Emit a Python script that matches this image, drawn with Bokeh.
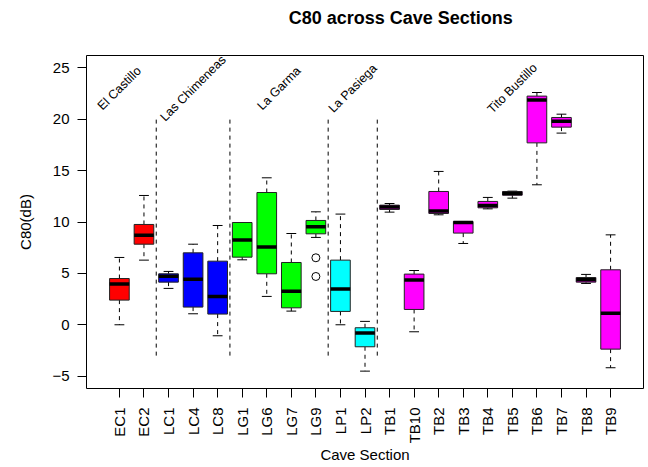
import math
import numpy as np
from bokeh.plotting import figure
from bokeh.layouts import column
from bokeh.models import ColumnDataSource, FixedTicker
from bokeh.core.properties import value
from bokeh.embed import file_html
from bokeh.resources import INLINE

# ---- data ----
categories = ["EC1", "EC2", "LC1", "LC4", "LC8", "LG1", "LG6", "LG7", "LG9",
              "LP1", "LP2", "TB1", "TB10", "TB2", "TB3", "TB4", "TB5", "TB6",
              "TB7", "TB8", "TB9"]
whisk_lo = [0.0, 6.29, 3.54, 1.07, -1.07, 6.32, 2.76, 1.33, 8.50, 0.0, -4.51,
            10.96, -0.68, 10.70, 7.91, 11.28, 12.32, 13.62, 18.65, 4.02, -4.18]
q1 = [2.40, 7.84, 4.15, 1.72, 1.04, 6.58, 4.96, 1.65, 8.85, 1.30, -2.14,
      11.22, 1.49, 10.83, 8.92, 11.38, 12.61, 17.70, 19.23, 4.15, -2.37]
median = [3.96, 8.72, 4.73, 4.44, 2.76, 8.24, 7.56, 3.27, 9.53, 3.47, -0.81,
          11.45, 4.35, 11.06, 9.95, 11.61, 12.78, 21.86, 19.81, 4.38, 1.13]
q3 = [4.50, 9.76, 4.96, 7.00, 6.19, 9.95, 12.87, 6.06, 10.15, 6.29, -0.29,
      11.64, 4.93, 12.97, 10.05, 12.00, 12.97, 22.25, 20.17, 4.60, 5.35]
whisk_hi = [6.55, 12.58, 5.19, 7.84, 9.66, 9.95, 14.30, 8.88, 10.99, 10.77, 0.33,
            11.80, 5.28, 14.92, 10.05, 12.39, 13.00, 22.60, 20.49, 4.90, 8.75]

outlier_cat = ["LG9", "LG9"]
outlier_val = [6.52, 4.70]

cave_names = ["El Castillo", "Las Chimeneas", "La Garma", "La Pasiega", "Tito Bustillo"]
cave_counts = [2, 3, 4, 2, 10]
cave_colors = ["#FF0000", "#0000FF", "#00FF00", "#00FFFF", "#FF00FF"]
cave_label_x = [1, 4, 7.5, 10.5, 17]
cave_label_y = 23
sep_y0, sep_y1 = -3, 20
y_ticks = [-5, 0, 5, 10, 15, 20, 25]

TITLE = "C80 across Cave Sections"

# ---- layout constants ----
FONT = "Liberation Sans"
W = 646
TITLE_H = 40
MAIN_H = 426
B_LEFT, B_RIGHT, B_TOP, B_BOTTOM = 86, 3, 15, 78

# ---- derived ----
pos = np.arange(1, len(categories) + 1)
colors = [c for c, n in zip(cave_colors, cave_counts) for _ in range(n)]
box_w = 0.8
cap_w = 0.4

src = ColumnDataSource(dict(
    x=pos, lo=whisk_lo, q1=q1, med=median, q3=q3, hi=whisk_hi, color=colors,
    xl=pos - box_w / 2, xr=pos + box_w / 2, cl=pos - cap_w / 2, cr=pos + cap_w / 2,
))

# ---- title strip ----
t = figure(width=W, height=TITLE_H, x_range=(0, W), y_range=(0, TITLE_H),
           x_axis_type=None, y_axis_type=None, output_backend="svg",
           toolbar_location=None, min_border=0)
t.outline_line_color = None
t.background_fill_color = "white"
t.border_fill_color = "white"
t.text(x=[(B_LEFT + W - B_RIGHT) / 2], y=[TITLE_H - 17], text=[TITLE],
       text_align="center", text_baseline="middle", text_font=value(FONT),
       text_font_size="18px", text_font_style="bold", text_color="black")

# ---- main plot ----
p = figure(width=W, height=MAIN_H, x_range=(-0.34, 22.34), y_range=(-6.2, 26.2),
           output_backend="svg", toolbar_location=None,
           min_border_left=B_LEFT, min_border_right=B_RIGHT,
           min_border_top=B_TOP, min_border_bottom=B_BOTTOM)
p.background_fill_color = "white"
p.border_fill_color = "white"
p.xgrid.visible = False
p.ygrid.visible = False
p.outline_line_color = "black"
p.outline_line_width = 1
p.outline_line_alpha = 1
p.title.visible = False

# whiskers
p.segment(x0="x", y0="q3", x1="x", y1="hi", source=src, line_color="black",
          line_width=1, line_dash="4 4")
p.segment(x0="x", y0="q1", x1="x", y1="lo", source=src, line_color="black",
          line_width=1, line_dash="4 4")
p.segment(x0="cl", y0="hi", x1="cr", y1="hi", source=src, line_color="black", line_width=1)
p.segment(x0="cl", y0="lo", x1="cr", y1="lo", source=src, line_color="black", line_width=1)

# boxes
p.quad(left="xl", right="xr", bottom="q1", top="q3", source=src,
       fill_color="color", line_color="#222222", line_width=1)
p.segment(x0="xl", y0="med", x1="xr", y1="med", source=src, line_color="black",
          line_width=3.5, line_cap="butt")

# outliers
out_x = [pos[categories.index(c)] for c in outlier_cat]
p.scatter(out_x, outlier_val, marker="circle", size=8, fill_color=None,
          line_color="black", line_width=1)

# separators
sep_x = np.cumsum(cave_counts)[:-1] + 0.5
p.segment(x0=sep_x, y0=[sep_y0] * len(sep_x), x1=sep_x, y1=[sep_y1] * len(sep_x),
          line_color="black", line_width=1, line_dash="4 4")

# cave labels
p.text(x=cave_label_x, y=[cave_label_y] * len(cave_names), text=cave_names,
       angle=45, angle_units="deg", text_align="center", text_baseline="middle",
       text_font=value(FONT), text_font_size="12.5px", text_color="black")

# axes
xa = p.xaxis[0]
xa.ticker = FixedTicker(ticks=list(pos))
xa.major_label_overrides = {int(i): c for i, c in zip(pos, categories)}
xa.major_label_orientation = math.pi / 2
xa.axis_label = "Cave Section"
ya = p.yaxis[0]
ya.ticker = FixedTicker(ticks=y_ticks)
ya.major_label_overrides = {t_: (("\u2212" + str(abs(t_))) if t_ < 0 else str(t_)) for t_ in y_ticks}
ya.axis_label = "C80(dB)"

for ax in (xa, ya):
    ax.axis_line_color = None
    ax.major_tick_out = 9
    ax.major_tick_in = 0
    ax.major_tick_line_color = "black"
    ax.minor_tick_line_color = None
    ax.major_label_text_font = FONT
    ax.major_label_text_font_size = "15px"
    ax.major_label_text_color = "black"
    ax.axis_label_text_font = FONT
    ax.axis_label_text_font_size = "15px"
    ax.axis_label_text_font_style = "normal"
    ax.axis_label_text_color = "black"

xa.major_label_standoff = 10
xa.axis_label_standoff = 0
ya.major_label_standoff = 8
ya.axis_label_standoff = 15

layout = column(t, p, spacing=0)
open("out.html", "w").write(file_html(layout, INLINE))
